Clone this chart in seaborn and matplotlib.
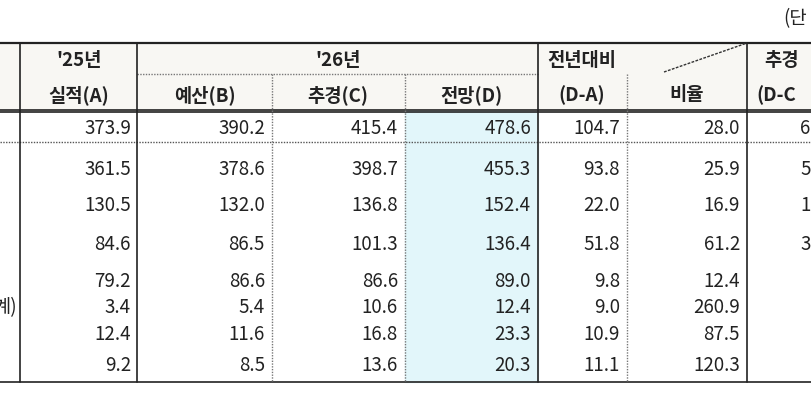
import numpy as np
import seaborn as sns
import matplotlib.pyplot as plt

sns.set_theme(style="white")
plt.rcParams['font.family'] = ['Noto Sans CJK KR', 'DejaVu Sans']

actual_a = [373.9, 361.5, 130.5, 84.6, 79.2, 3.4, 12.4, 9.2]
budget_b = [390.2, 378.6, 132.0, 86.5, 86.6, 5.4, 11.6, 8.5]
supp_c = [415.4, 398.7, 136.8, 101.3, 86.6, 10.6, 16.8, 13.6]
outlook_d = [478.6, 455.3, 152.4, 136.4, 89.0, 12.4, 23.3, 20.3]
diff_da = [104.7, 93.8, 22.0, 51.8, 9.8, 9.0, 10.9, 11.1]
ratio = [28.0, 25.9, 16.9, 61.2, 12.4, 260.9, 87.5, 120.3]
# only the leading digit of the last column is visible in the crop
diff_dc_visible = ['6', '5', '1', '3', '', '', '', '']

row_y = [128, 170, 206, 245, 282, 308, 335, 366]
col_right = [131, 265, 398, 531, 620, 740]

fig = plt.figure(figsize=(8.12, 4.06), dpi=100)
ax = fig.add_axes([0, 0, 1, 1])
ax.set_xlim(0, 812)
ax.set_ylim(406, 0)
ax.axis('off')

# backgrounds
ax.fill_between([0, 812], 44, 112, color='#f8f7f3', zorder=0)
ax.fill_between([405, 538], 112, 383, color='#e2f6fa', zorder=0)

# horizontal lines
ax.plot([0, 812], [44, 44], color='#222222', lw=1.6)
ax.plot([0, 812], [111, 111], color='#222222', lw=1.2)
ax.plot([0, 812], [113, 113], color='#222222', lw=1.2)
ax.plot([0, 812], [143, 143], color='#555555', lw=1, ls=(0, (1, 1)))
ax.plot([0, 812], [383, 383], color='#222222', lw=1.2)
ax.plot([137, 538], [75, 75], color='#777777', lw=1, ls=(0, (1, 1)))

# vertical lines
for x in [20, 137, 538, 747]:
    ax.plot([x, x], [44, 383], color='#222222', lw=1.2)
for x in [272, 405, 627]:
    ax.plot([x, x], [75, 383], color='#777777', lw=1, ls=(0, (1, 1)))
ax.plot([664, 747], [73, 44], color='#333333', lw=1, ls=(0, (2, 1)))

hk = dict(fontsize=13.5, fontweight='bold', color='#222222', va='center')
ax.text(79, 60, "'25년", ha='center', **hk)
ax.text(79, 95, '실적(A)', ha='center', **hk)
ax.text(338, 60, "'26년", ha='center', **hk)
ax.text(205, 95, '예산(B)', ha='center', **hk)
ax.text(338, 95, '추경(C)', ha='center', **hk)
ax.text(471, 95, '전망(D)', ha='center', **hk)
ax.text(582, 60, '전년대비', ha='center', **hk)
ax.text(582, 95, '(D-A)', ha='center', **hk)
ax.text(687, 95, '비율', ha='center', **hk)
ax.text(764, 60, '추경', ha='left', **hk)
ax.text(756, 95, '(D-C', ha='left', **hk)
ax.text(783, 19, '(단', ha='left', fontsize=13.5, color='#222222', va='center')
ax.text(17, 308, '계)', ha='right', fontsize=13.5, color='#222222', va='center')

cols = [actual_a, budget_b, supp_c, outlook_d, diff_da, ratio]
for xr, vals in zip(col_right, cols):
    for y, v in zip(row_y, vals):
        ax.text(xr, y, f'{v:.1f}', ha='right', va='center', fontsize=13.5, color='#222222')
for y, s in zip(row_y, diff_dc_visible):
    ax.text(800, y, s, ha='left', va='center', fontsize=13.5, color='#222222')

fig.savefig('out.png', dpi=100)
